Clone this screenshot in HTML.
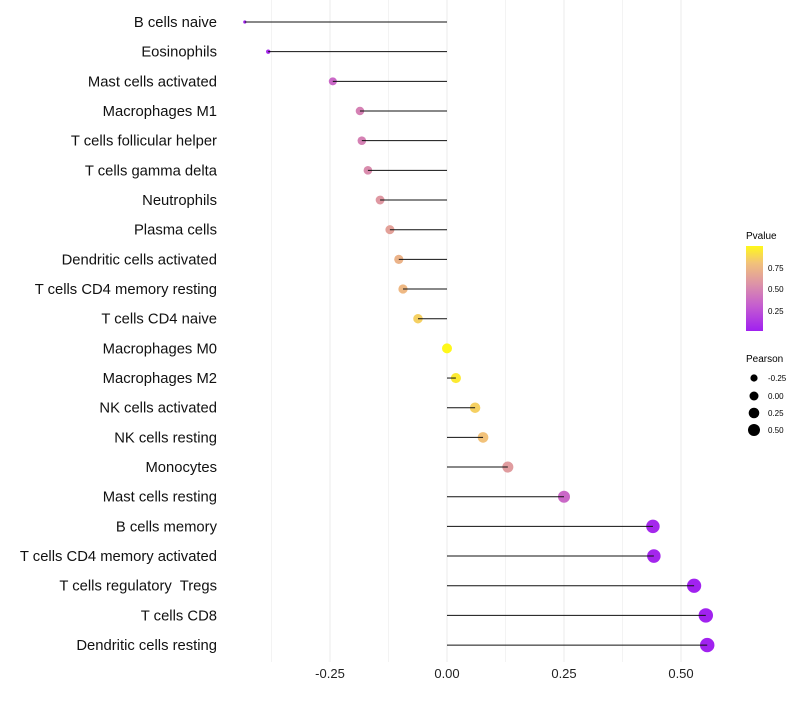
<!DOCTYPE html>
<html><head><meta charset="utf-8"><style>
body{margin:0;background:#fff;font-family:"Liberation Sans",sans-serif}
text{white-space:pre}
</style></head><body>
<svg id="chart" width="800" height="700" xmlns="http://www.w3.org/2000/svg" font-family="Liberation Sans, sans-serif">
<defs><linearGradient id="pg" x1="0" y1="1" x2="0" y2="0">
<stop offset="0" stop-color="#A020F0"/><stop offset="0.3" stop-color="#C55ECF"/><stop offset="0.55" stop-color="#DC92A8"/><stop offset="0.8" stop-color="#F2C27A"/><stop offset="1" stop-color="#FFF81A"/>
</linearGradient></defs>
<g id="grid"></g><g id="marks"></g><g id="labels"></g>
<g>
<text x="746" y="239" font-size="10">Pvalue</text>
<rect x="746" y="246" width="17" height="85" fill="url(#pg)"/>
<text x="768" y="271" font-size="8">0.75</text>
<text x="768" y="292" font-size="8">0.50</text>
<text x="768" y="314" font-size="8">0.25</text>
</g>
<g>
<text x="746" y="362" font-size="10">Pearson</text>
<circle cx="754" cy="378" r="3.6"/><text x="768" y="381" font-size="8">-0.25</text>
<circle cx="754" cy="396" r="4.5"/><text x="768" y="399" font-size="8">0.00</text>
<circle cx="754" cy="413" r="5.3"/><text x="768" y="416" font-size="8">0.25</text>
<circle cx="754" cy="430" r="6"/><text x="768" y="433" font-size="8">0.50</text>
</g>
</svg>
<script>
const categories=["B cells naive","Eosinophils","Mast cells activated","Macrophages M1","T cells follicular helper","T cells gamma delta","Neutrophils","Plasma cells","Dendritic cells activated","T cells CD4 memory resting","T cells CD4 naive","Macrophages M0","Macrophages M2","NK cells activated","NK cells resting","Monocytes","Mast cells resting","B cells memory","T cells CD4 memory activated","T cells regulatory  Tregs","T cells CD8","Dendritic cells resting"];
const pearson=[-0.432,-0.382,-0.244,-0.186,-0.182,-0.169,-0.143,-0.122,-0.103,-0.094,-0.062,0.0,0.019,0.060,0.077,0.130,0.250,0.440,0.442,0.528,0.553,0.556];
const pvalue=[0.01,0.05,0.35,0.47,0.47,0.52,0.58,0.63,0.72,0.75,0.85,1.0,0.95,0.85,0.8,0.6,0.35,0.04,0.03,0.01,0.01,0.01];
const xTicks=[-0.25,0,0.25,0.5];
const xTickLabels=["-0.25","0.00","0.25","0.50"];
const NS="http://www.w3.org/2000/svg";
const x=v=>447+v*468;
const y=i=>22+i*29.67;
const stops=[[0,[160,32,240]],[0.3,[197,94,207]],[0.55,[220,146,168]],[0.8,[242,194,122]],[1,[255,248,26]]];
function col(p){p=Math.max(0,Math.min(1,p));for(let k=1;k<stops.length;k++){if(p<=stops[k][0]){const a=stops[k-1],b=stops[k],t=(p-a[0])/(b[0]-a[0]);return "rgb("+a[1].map((c,j)=>Math.round(c+(b[1][j]-c)*t)).join(",")+")";}}return "rgb(255,248,26)";}
const rad=v=>Math.max(1.5,v<-0.4?1.6:v<-0.3?2.2:5+4*v);
function mk(t,a,p){const e=document.createElementNS(NS,t);for(const k in a)e.setAttribute(k,a[k]);p.appendChild(e);return e;}
const g=document.getElementById('grid'),m=document.getElementById('marks'),l=document.getElementById('labels');
for(let v=-0.375;v<=0.51;v+=0.125){const ln=mk('line',{x1:x(v),x2:x(v),y1:0,y2:662,stroke:'#ebebeb','stroke-width':Math.abs((v*4)%1)<0.01?1:0.6},g);

}
xTicks.forEach((v,i)=>{const t=mk('text',{x:x(v),y:678,'font-size':13,'text-anchor':'middle',fill:'#222'},l);t.textContent=xTickLabels[i];

});
categories.forEach((c,i)=>{
const d=mk('circle',{cx:x(pearson[i]),cy:y(i),r:rad(pearson[i]),fill:col(pvalue[i])},m);


const s=mk('line',{x1:x(0),x2:x(pearson[i]),y1:y(i),y2:y(i),stroke:'#111','stroke-width':1},m);


const t=mk('text',{x:217,y:y(i)+5,'font-size':14.8,'text-anchor':'end',fill:'#111'},l);t.textContent=c;


});
</script>
</body></html>
